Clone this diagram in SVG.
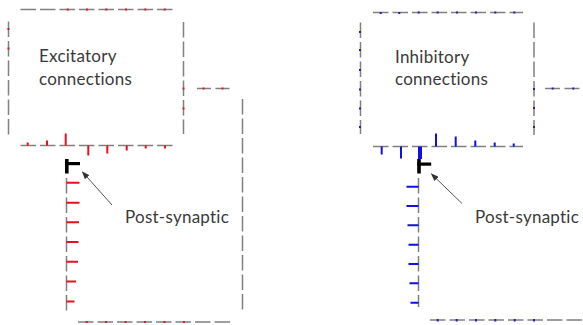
<svg xmlns="http://www.w3.org/2000/svg" width="583" height="325" viewBox="0 0 583 325">
<style>
.d{stroke:#808080;stroke-width:1.5;stroke-dasharray:15.5 4;fill:none}
.r{stroke:#e8101c;stroke-width:2;fill:none}
.b{stroke:#1010e0;stroke-width:2;fill:none}
.rd{stroke:#d02030;stroke-width:2;fill:none}
.bd{stroke:#2020c0;stroke-width:2;fill:none}
.k{fill:#000}
.t{font-family:Lato,"Open Sans","Liberation Sans",sans-serif;font-size:17px;letter-spacing:0.25px;fill:#3a3a3a}
.a{stroke:#555;stroke-width:1;fill:none}
</style>
<defs>
<marker id="ah" markerWidth="8" markerHeight="6" refX="7" refY="3" orient="auto" markerUnits="userSpaceOnUse">
<path d="M0,0 L8,3 L0,6 Z" fill="#333"/>
</marker>
</defs>

<g id="excitatory">
<g id="exc-box">
<line class="d" x1="20.5" y1="9.5" x2="173" y2="9.5"/>
<line class="d" x1="8.5" y1="21.5" x2="8.5" y2="135"/>
<line class="d" x1="183.5" y1="22" x2="183.5" y2="134"/>
<line class="d" x1="20.5" y1="145.5" x2="173" y2="145.5"/>
<path class="rd" d="M67.7,8.5v2M87,8.5v2M106.3,8.5v2M126,8.5v2M145.3,8.5v2M164.7,8.5v2M8.5,28v2M8.5,47.5v2M183.5,87.5v2M183.5,107.5v2"/>
<path class="r" d="M27.7,145.5v-3M47,145.5v-5M65.7,145.5v-12M88.3,145.5v10M107.3,145.5v8M126.7,145.5v5M145.7,145.5v3M165,145.5v3"/>
<text class="t" x="39" y="62">Excitatory</text>
<text class="t" x="39" y="85">connections</text>
</g>
<g id="exc-side">
<line class="d" x1="197" y1="88.5" x2="230" y2="88.5" style="stroke-dasharray:14 4.5"/>
<path class="rd" d="M203.5,87.5v2M222.5,87.5v2"/>
<line class="d" x1="242.5" y1="99" x2="242.5" y2="311"/>
<line class="d" x1="78" y1="322" x2="232" y2="322"/>
<path class="rd" d="M86.7,321v2M106,321v2M125.5,321v2M145,321v2M164.5,321v2M184,321v2"/>
</g>
<g id="exc-post">
<line class="d" x1="66.5" y1="178" x2="66.5" y2="311"/>
<path class="r" d="M66.5,182.7h13M66.5,202.7h13M66.5,222.3h12.5M66.5,242h12M66.5,261.7h11.5M66.5,281.5h9.5M66.5,301.5h8"/>
<rect class="k" x="65" y="159" width="3.6" height="14.5"/>
<rect class="k" x="65" y="162" width="15" height="3.2"/>
<text class="t" x="125" y="223">Post-synaptic</text>
</g>
</g>

<g id="inhibitory">
<g id="inh-box">
<line class="d" x1="373" y1="12.5" x2="523" y2="12.5"/>
<line class="d" x1="360.5" y1="22.5" x2="360.5" y2="134"/>
<line class="d" x1="534" y1="22.5" x2="534" y2="135"/>
<line class="d" x1="373" y1="146.5" x2="523" y2="146.5"/>
<path class="bd" d="M380.7,12v2M399.3,12v2M418.7,11.5v2M437.7,11.5v2M457,11.5v2M476,11.5v2M495.3,11.5v2M514.3,11.5v2M360,31v2M360,49v2M360,69v2M360,88.5v2M360,107.5v2M360,126v2M534,88v2M534,107v2M534,126v2"/>
<path class="b" d="M381.7,146.5v8M401,146.5v12M436,146.5v-13M455.7,146.5v-10M475.3,146.5v-6M494.7,146.5v-4M513.7,146.5v-3"/>
<rect x="418" y="146.5" width="4" height="12.5" fill="#1010e0"/>
<text class="t" x="395" y="63">Inhibitory</text>
<text class="t" x="395" y="85">connections</text>
</g>
<g id="inh-side">
<line class="d" x1="545" y1="88.5" x2="581" y2="88.5" style="stroke-dasharray:15 4.5"/>
<path class="bd" d="M552.7,87.5v2M573.3,87.5v2"/>
<line class="d" x1="430" y1="320" x2="583" y2="320"/>
<path class="bd" d="M437.7,319v2.5M456.7,319v2.5M476,319v2.5M495.3,319v2.5M514.7,319v2.5M534,319v2.5"/>
</g>
<g id="inh-post">
<line class="d" x1="418.5" y1="178" x2="418.5" y2="307"/>
<path class="b" d="M418.5,186.7h-12M418.5,206h-12M418.5,225.3h-11M418.5,244.7h-10M418.5,264h-10M418.5,283.3h-9M418.5,302.7h-8"/>
<rect class="k" x="417.2" y="159" width="3.6" height="14.5"/>
<rect class="k" x="417.2" y="162.5" width="14" height="3.2"/>
<text class="t" x="475" y="223">Post-synaptic</text>
</g>
</g>

<g id="connectors">
<line class="a" x1="112" y1="205" x2="82.5" y2="172" marker-end="url(#ah)"/>
<line class="a" x1="462" y1="203.5" x2="431.5" y2="174" marker-end="url(#ah)"/>
</g>
</svg>
